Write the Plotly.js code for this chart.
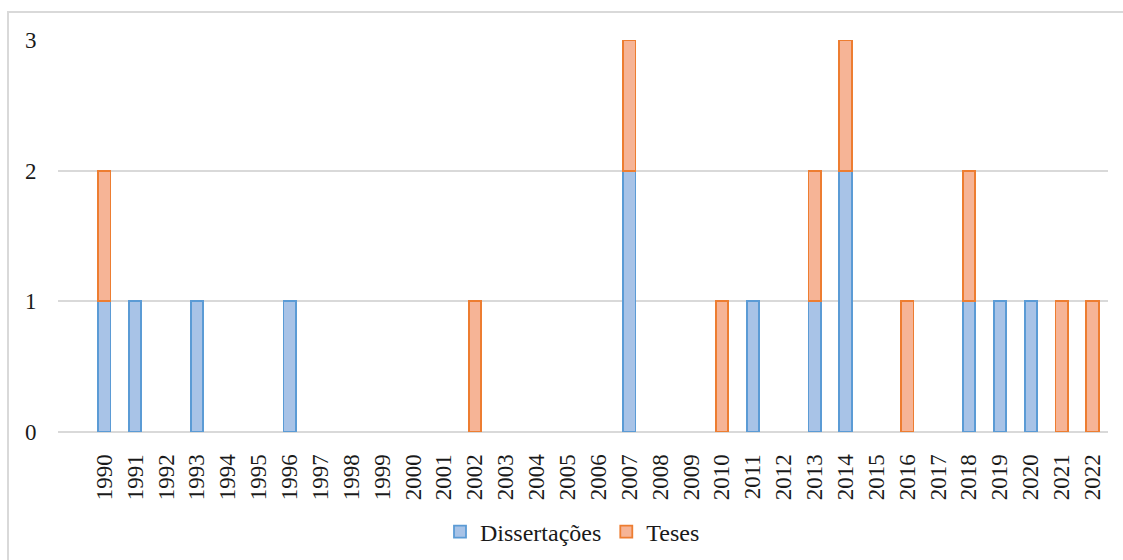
<!DOCTYPE html>
<html>
<head>
<meta charset="utf-8">
<script src="https://cdn.plot.ly/plotly-3.0.1.min.js"></script>
<style>html,body{margin:0;padding:0;background:#fff;}#chart{width:1123px;height:560px;}</style>
</head>
<body>
<div id="chart"></div>
<script>
const years = ['1990','1991','1992','1993','1994','1995','1996','1997','1998','1999','2000','2001','2002','2003','2004','2005','2006','2007','2008','2009','2010','2011','2012','2013','2014','2015','2016','2017','2018','2019','2020','2021','2022'];
const dissertacoes = [1,1,0,1,0,0,1,0,0,0,0,0,0,0,0,0,0,2,0,0,0,1,0,1,2,0,0,0,1,1,1,0,0];
const teses =        [1,0,0,0,0,0,0,0,0,0,0,0,1,0,0,0,0,1,0,0,1,0,0,1,1,0,1,0,1,0,0,1,1];
const yTicks = [0,1,2,3];

const fam = 'Liberation Serif, Times New Roman, serif';
const tickFont = {family: fam, size: 23, color: '#1a1a1a'};
const legFont = {family: fam, size: 24, color: '#1a1a1a'};
const nz = a => a.map(v => v === 0 ? null : v);

const traces = [
  {type:'bar', name:'Dissertações', x: years, y: nz(dissertacoes),
   marker:{color:'#a8c3e7', line:{color:'#5b9bd5', width:1.8}}},
  {type:'bar', name:'Teses', x: years, y: nz(teses),
   marker:{color:'#f6b496', line:{color:'#ed7d31', width:1.8}}}
];

const layout = {
  width:1123, height:560,
  margin:{l:58, r:15, t:40, b:128, autoexpand:false},
  barmode:'stack', bargap:0.6,
  paper_bgcolor:'#fff', plot_bgcolor:'#fff',
  font: tickFont,
  showlegend:true,
  legend:{orientation:'h', x:0.49, xanchor:'center', yref:'container', y:0.05, yanchor:'middle', font:legFont, traceorder:'normal', itemwidth:30},
  xaxis:{type:'category', categoryorder:'array', categoryarray: years, range:[-1.5, 32.5], automargin:false,
         tickangle:-90, showgrid:false, zeroline:false, showline:false,
         ticks:'outside', ticklen:12, tickcolor:'rgba(0,0,0,0)', tickfont:tickFont, fixedrange:true},
  yaxis:{range:[0,3], tickvals:yTicks, ticktext:yTicks.map(String), showgrid:true, gridcolor:'#d9d9d9', gridwidth:2,
         zeroline:true, zerolinecolor:'#d9d9d9', zerolinewidth:2, showline:false, automargin:false,
         ticks:'outside', ticklen:16, tickcolor:'rgba(0,0,0,0)', tickfont:tickFont, fixedrange:true},
  shapes:[{type:'rect', xref:'paper', yref:'paper', x0:(8-58)/1050, x1:(1130-58)/1050, y0:(432-600)/392, y1:(432-12)/392,
           line:{color:'#d9d9d9', width:2}, fillcolor:'rgba(0,0,0,0)', layer:'below'}]
};

Plotly.newPlot('chart', traces, layout, {displayModeBar:false, staticPlot:true});
</script>
</body>
</html>
